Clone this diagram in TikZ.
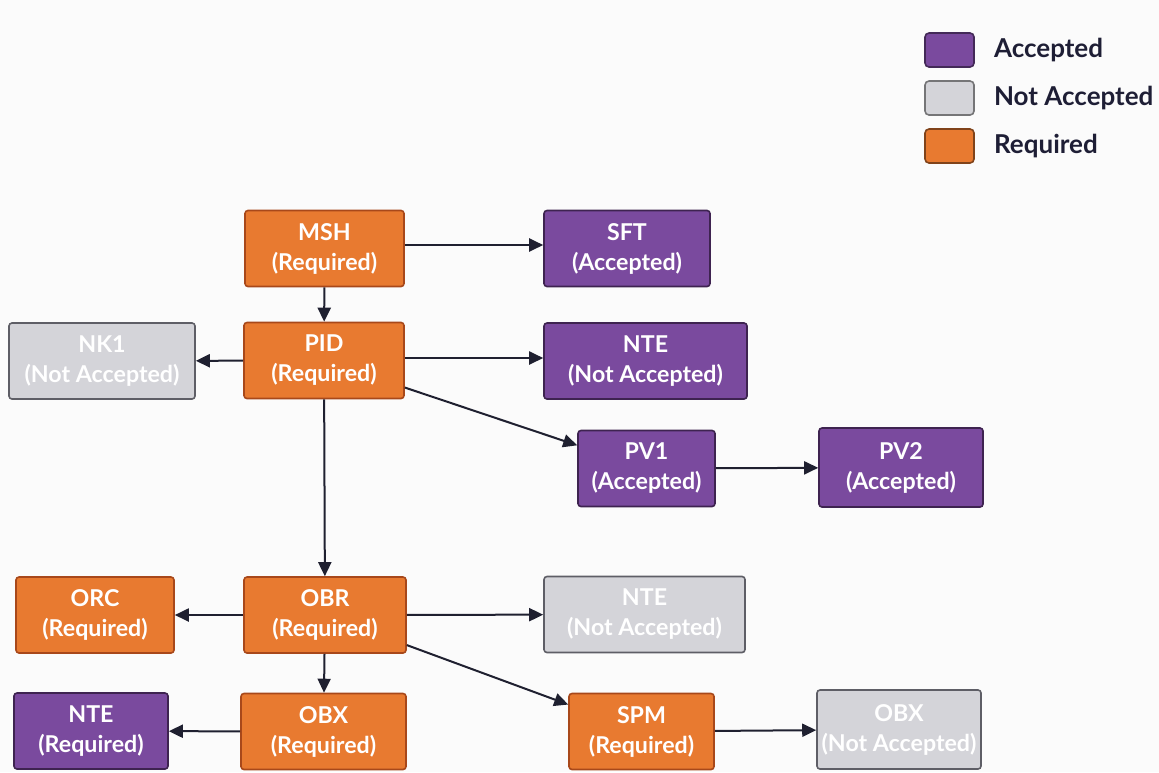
\documentclass[tikz,border=0pt]{standalone}
\usepackage{fontspec}
\setmainfont{Lato}
\usetikzlibrary{arrows.meta}

\begin{document}
\begin{tikzpicture}[x=0.5pt,y=-0.5pt,
  seg/.style={draw,line width=0.8pt,rounded corners=1.5pt,minimum height=38pt,inner sep=0pt,align=center,text=white,font=\fontsize{11.6}{15}\selectfont\bfseries},
  req/.style={seg,fill=reqfill,draw=reqline},
  acc/.style={seg,fill=accfill,draw=accline},
  nacc/.style={seg,fill=naccfill,draw=naccline},
  key/.style={draw,line width=0.8pt,rounded corners=2pt,minimum width=24.5pt,minimum height=17pt,inner sep=0pt},
  link/.style={-{Triangle[length=7pt,width=6.5pt]},line width=1pt,draw=linkc}]
\definecolor{reqfill}{HTML}{E87A30}
\definecolor{reqline}{HTML}{A8481A}
\definecolor{accfill}{HTML}{7A4A9E}
\definecolor{accline}{HTML}{3E2350}
\definecolor{naccfill}{HTML}{D4D4D9}
\definecolor{naccline}{HTML}{5E5E66}
\definecolor{linkc}{HTML}{1F2030}
\definecolor{inkc}{HTML}{1E1E35}
\definecolor{paper}{HTML}{FBFBFB}
\fill[paper] (0,0) rectangle (1159,772);
\useasboundingbox (0,0) rectangle (1159,772);
% legend
  \foreach \crlr/\txt/\pos in {accfill/Accepted/50,naccfill/Not Accepted/98,reqfill/Required/146}
  {  \node [key,fill=\crlr,draw=\crlr!55!black] (key\pos) at (949.5,\pos) {};
     \node [anchor=west,text=inkc,font=\fontsize{13}{15}\selectfont\bfseries] (lbl\pos) at (987,\pos) {\txt};}
% segments
\node[req,minimum width=79.5pt] (msh) at (324.5,248.5) {MSH\\(Required)};
\node[acc,minimum width=83pt] (sft) at (627,248.5) {SFT\\(Accepted)};
\node[nacc,minimum width=93pt] (nk1) at (102,361) {NK1\\(Not Accepted)};
\node[req,minimum width=80pt] (pid) at (324,360.5) {PID\\(Required)};
\node[acc,minimum width=101.5pt] (nteA) at (645.5,361) {NTE\\(Not Accepted)};
\node[acc,minimum width=68.5pt] (pv1) at (646.5,468.5) {PV1\\(Accepted)};
\node[acc,minimum width=82pt,minimum height=39.5pt] (pv2) at (901,467.5) {PV2\\(Accepted)};
\node[req,minimum width=79pt] (orc) at (95,615) {ORC\\(Required)};
\node[req,minimum width=81pt] (obr) at (325,615) {OBR\\(Required)};
\node[nacc,minimum width=100.5pt] (nteB) at (644.5,614.5) {NTE\\(Not Accepted)};
\node[acc,minimum width=77pt] (nteC) at (91,731) {NTE\\(Required)};
\node[req,minimum width=82.5pt] (obxA) at (323.5,731.5) {OBX\\(Required)};
\node[req,minimum width=72.5pt] (spm) at (641.5,731.5) {SPM\\(Required)};
\node[nacc,minimum width=82pt,minimum height=39.5pt] (obxB) at (899,729.5) {OBX\\(Not Accepted)};
% links
\draw[link] (msh.east |- 0,245) -- (sft.west |- 0,245);
\draw[link] (msh) -- (pid);
\draw[link] (pid) -- (nk1);
\draw[link] (pid.east |- 0,358) -- (nteA.west |- 0,358);
\draw[link] (pid) -- (pv1);
\draw[link] (pid) -- (obr);
\draw[link] (pv1) -- (pv2);
\draw[link] (obr) -- (orc);
\draw[link] (obr) -- (nteB);
\draw[link] (obr) -- (spm);
\draw[link] (obr) -- (obxA);
\draw[link] (obxA) -- (nteC);
\draw[link] (spm) -- (obxB);
\end{tikzpicture}
\end{document}
